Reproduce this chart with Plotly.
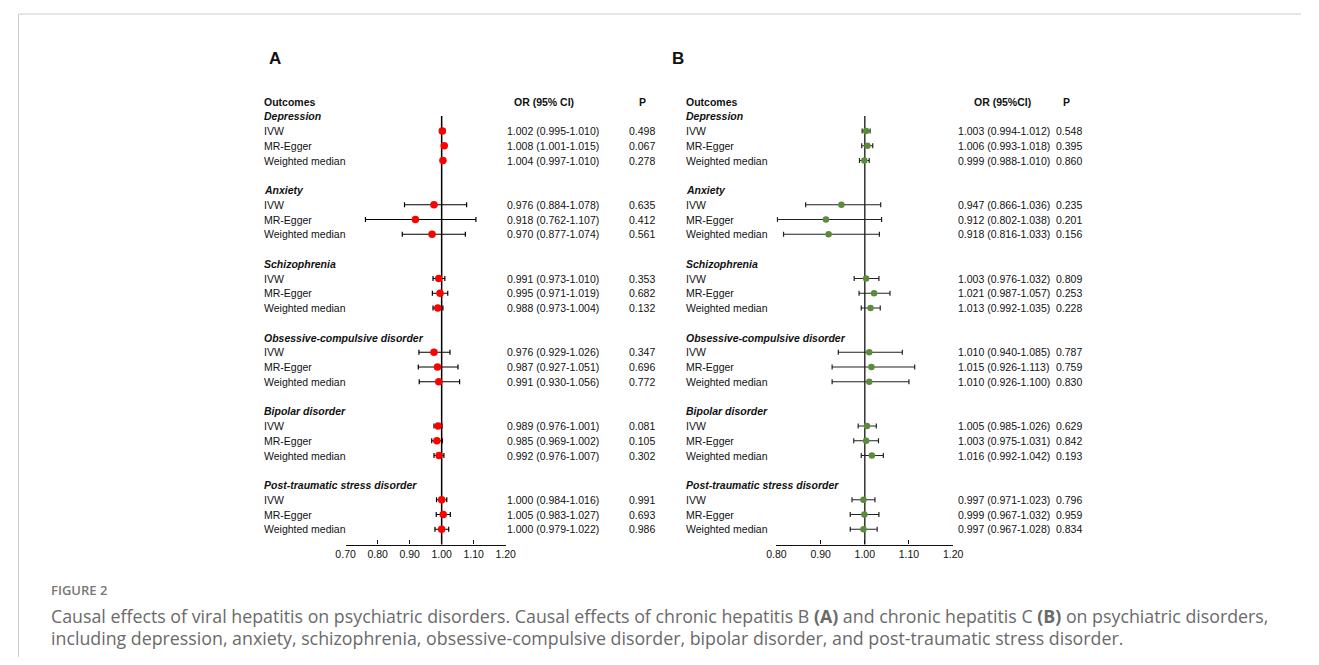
import plotly.graph_objects as go

# ---------------- data ----------------
groups = ["Depression", "Anxiety", "Schizophrenia", "Obsessive-compulsive disorder",
          "Bipolar disorder", "Post-traumatic stress disorder"]
methods = ["IVW", "MR-Egger", "Weighted median"]

# Panel A: chronic hepatitis B
a_or = [1.002, 1.008, 1.004, 0.976, 0.918, 0.970, 0.991, 0.995, 0.988,
        0.976, 0.987, 0.991, 0.989, 0.985, 0.992, 1.000, 1.005, 1.000]
a_lo = [0.995, 1.001, 0.997, 0.884, 0.762, 0.877, 0.973, 0.971, 0.973,
        0.929, 0.927, 0.930, 0.976, 0.969, 0.976, 0.984, 0.983, 0.979]
a_hi = [1.010, 1.015, 1.010, 1.078, 1.107, 1.074, 1.010, 1.019, 1.004,
        1.026, 1.051, 1.056, 1.001, 1.002, 1.007, 1.016, 1.027, 1.022]
a_p = ["0.498", "0.067", "0.278", "0.635", "0.412", "0.561", "0.353", "0.682", "0.132",
       "0.347", "0.696", "0.772", "0.081", "0.105", "0.302", "0.991", "0.693", "0.986"]

# Panel B: chronic hepatitis C
b_or = [1.003, 1.006, 0.999, 0.947, 0.912, 0.918, 1.003, 1.021, 1.013,
        1.010, 1.015, 1.010, 1.005, 1.003, 1.016, 0.997, 0.999, 0.997]
b_lo = [0.994, 0.993, 0.988, 0.866, 0.802, 0.816, 0.976, 0.987, 0.992,
        0.940, 0.926, 0.926, 0.985, 0.975, 0.992, 0.971, 0.967, 0.967]
b_hi = [1.012, 1.018, 1.010, 1.036, 1.038, 1.033, 1.032, 1.057, 1.035,
        1.085, 1.113, 1.100, 1.026, 1.031, 1.042, 1.023, 1.032, 1.028]
b_p = ["0.548", "0.395", "0.860", "0.235", "0.201", "0.156", "0.809", "0.253", "0.228",
       "0.787", "0.759", "0.830", "0.629", "0.842", "0.193", "0.796", "0.959", "0.834"]

a_ticks = [0.70, 0.80, 0.90, 1.00, 1.10, 1.20]
b_ticks = [0.80, 0.90, 1.00, 1.10, 1.20]

caption_title = "FIGURE 2"
caption_1 = ("Causal effects of viral hepatitis on psychiatric disorders. Causal effects of chronic "
             "hepatitis B <b>(A)</b> and chronic hepatitis C <b>(B)</b> on psychiatric disorders,")
caption_2 = ("including depression, anxiety, schizophrenia, obsessive-compulsive disorder, "
             "bipolar disorder, and post-traumatic stress disorder.")

# ---------------- layout helpers ----------------
# page pixels (reference); the figure sits inside the page body's 8px margin
OFF = 8
W, H = 1319 - 2 * OFF, 665 - 2 * OFF
ROW0, ROWH = 101.5, 14.75
AXIS_PX = 544.5
FONT = "Liberation Sans, Arial, sans-serif"
FS = 10.5

def PX(x):
    return (x - OFF) / W

def PY(y):
    return 1 - (y - OFF) / H

def px2row(p):
    return (p - ROW0) / ROWH

rows_header = [1 + 5 * g for g in range(len(groups))]
rows_method = [h + 1 + m for h in rows_header for m in range(len(methods))]
labels_method = [m for _ in groups for m in methods]

fig = go.Figure()

def panel(xref, or_, lo, hi, pv, color, msize, lab_x, or_x, orh_x, p_x, ph_x, orh_text,
          letter, letter_x, line_col, err_col):
    fig.add_trace(go.Scatter(
        x=or_, y=rows_method, mode="markers", xaxis=xref, yaxis="y",
        marker=dict(color=color, size=msize, line=dict(width=0)),
        error_x=dict(type="data", symmetric=False,
                     array=[h - o for h, o in zip(hi, or_)],
                     arrayminus=[o - l for o, l in zip(or_, lo)],
                     color=err_col, thickness=1.2, width=2.5),
        showlegend=False, hoverinfo="skip"))
    def T(x, y, text, anchor="left", bold=False, italic=False, size=FS, yref="y"):
        t = text
        if bold:
            t = "<b>" + t + "</b>"
        if italic:
            t = "<i>" + t + "</i>"
        fig.add_annotation(x=PX(x), y=y, xref="paper", yref=yref, text=t, showarrow=False,
                           xanchor=anchor, yanchor="middle", borderpad=0,
                           font=dict(family=FONT, size=size, color="#111"))
    T(letter_x, PY(58), letter, anchor="center", bold=True, size=17, yref="paper")
    T(lab_x, 0, "Outcomes", bold=True)
    T(orh_x, 0, orh_text, anchor="center", bold=True)
    T(ph_x, 0, "P", anchor="center", bold=True)
    for g, r in zip(groups, rows_header):
        T(lab_x, r, g, bold=True, italic=True)
    for i, r in enumerate(rows_method):
        T(lab_x, r, labels_method[i])
        T(or_x, r, f"{or_[i]:.3f} ({lo[i]:.3f}-{hi[i]:.3f})")
        T(p_x, r, pv[i])
    fig.add_shape(type="line", xref=xref, yref="y", x0=1, x1=1,
                  y0=px2row(116), y1=px2row(AXIS_PX), line=dict(color=line_col, width=1.5),
                  layer="below")

panel("x", a_or, a_lo, a_hi, a_p, "#ff0000", 7.5, 256.5, 504, 542, 628, 642,
      "OR (95% CI)", "A", 268.5, "#000", "#000")
panel("x2", b_or, b_lo, b_hi, b_p, "#5b8c3a", 6.5, 685, 962, 1008, 1061, 1073,
      "OR (95%CI)", "B", 678, "#333", "#222")

axis_common = dict(anchor="free", position=PY(AXIS_PX), showline=True, linecolor="#111",
                   linewidth=1.3, ticks="inside", ticklen=4, tickcolor="#111", tickwidth=1.3,
                   showgrid=False, zeroline=False, tickformat=".2f",
                   tickfont=dict(family=FONT, size=FS, color="#111"), fixedrange=True)

fig.update_layout(
    width=W, height=H, margin=dict(l=0, r=0, t=0, b=0),
    paper_bgcolor="white", plot_bgcolor="white",
    xaxis=dict(domain=[PX(340.7), PX(503.3)], range=[0.70, 1.20], tickvals=a_ticks, **axis_common),
    xaxis2=dict(domain=[PX(778.3), PX(957.7)], range=[0.80, 1.20], tickvals=b_ticks, **axis_common),
    yaxis=dict(domain=[0, 1], range=[px2row(OFF + H), px2row(OFF)], visible=False, fixedrange=True),
)

# frame (light grey border of the figure box)
fig.add_shape(type="line", xref="paper", yref="paper", x0=PX(8.5), x1=1, y0=PY(14), y1=PY(14),
              line=dict(color="#cccccc", width=1))
fig.add_shape(type="line", xref="paper", yref="paper", x0=PX(8.5), x1=PX(8.5), y0=0, y1=PY(14),
              line=dict(color="#cccccc", width=1))

# caption
cap_font = "Open Sans, Noto Sans, sans-serif"
fig.add_annotation(x=PX(40), y=PY(590), xref="paper", yref="paper", showarrow=False,
                   xanchor="left", yanchor="middle", text=caption_title, borderpad=0,
                   font=dict(family=cap_font, size=13, color="#777", weight=600))
fig.add_annotation(x=PX(40), y=PY(616), xref="paper", yref="paper", showarrow=False,
                   xanchor="left", yanchor="middle", text=caption_1, borderpad=0,
                   font=dict(family=cap_font, size=17.8, color="#6a6a6a"))
fig.add_annotation(x=PX(40), y=PY(638), xref="paper", yref="paper", showarrow=False,
                   xanchor="left", yanchor="middle", text=caption_2, borderpad=0,
                   font=dict(family=cap_font, size=17.8, color="#6a6a6a"))

fig.write_html("out.html")
